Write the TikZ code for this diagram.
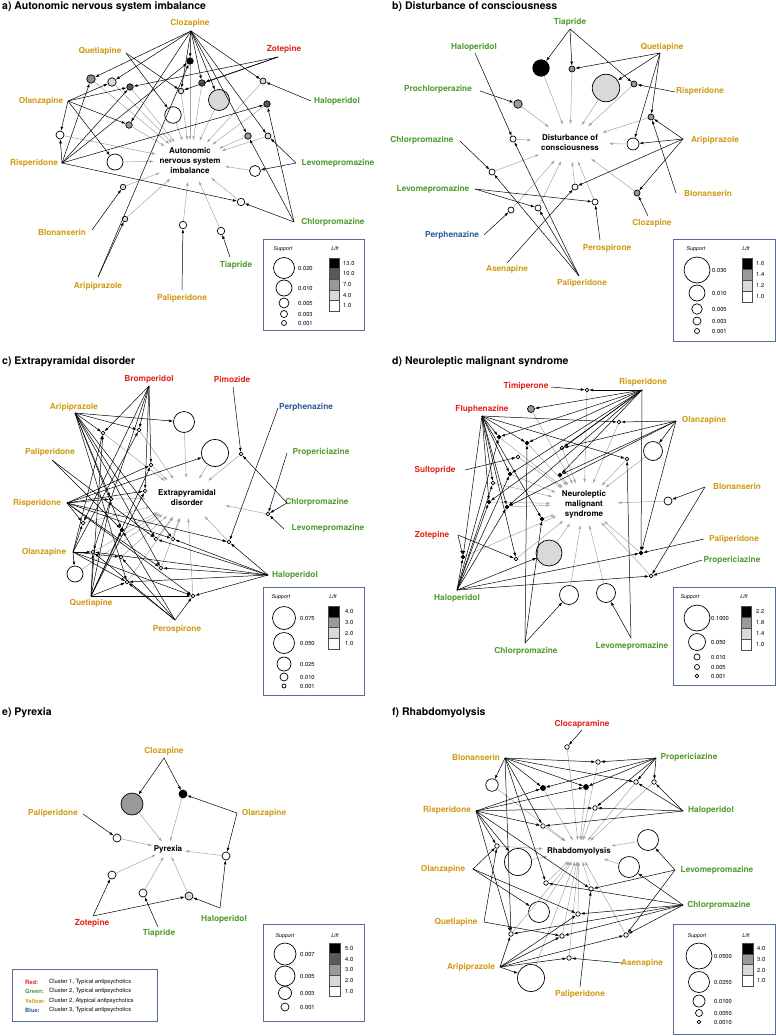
\documentclass[tikz,border=0pt]{standalone}
\usepackage{fontspec}
\setmainfont{TeX Gyre Heros}
\usepackage{tikz}
\usetikzlibrary{arrows.meta,shapes.geometric}
\definecolor{dred}{HTML}{E2231A}
\definecolor{dgreen}{HTML}{4E9A2E}
\definecolor{dyellow}{HTML}{D09A12}
\definecolor{dblue}{HTML}{2B5A96}
\definecolor{boxblue}{HTML}{5A6C94}

\begin{document}
\begin{tikzpicture}[x=1pt,y=-1pt,
	dr/.style={inner sep=0pt,font=\fontsize{8.3}{10}\selectfont\bfseries},
	ctr/.style={ellipse,align=center,font=\fontsize{8}{10}\selectfont\bfseries},
	bub/.style={circle,draw,line width=0.7pt,inner sep=0pt},
	arr/.style={-{Latex[length=4pt,width=2.8pt]},line width=0.5pt},
	garr/.style={arr,draw=black!35},
	ttl/.style={anchor=west,inner sep=0pt,font=\fontsize{10.5}{12}\selectfont\bfseries},
	lgd/.style={draw=boxblue,line width=0.9pt},
	lgh/.style={inner sep=0pt,font=\fontsize{5.3}{6}\selectfont\itshape},
	lgt/.style={anchor=west,inner sep=0pt,font=\fontsize{5.8}{7}\selectfont},
	cell/.style={draw=black!70,line width=0.5pt}]
	\useasboundingbox (0,0) rectangle (776,1036);
	
	%TITLES
	\node[ttl] (tA) at (2,7) {a) Autonomic nervous system imbalance};
	\node[ttl] (tB) at (392,7) {b) Disturbance of consciousness};
	\node[ttl] (tC) at (2,362) {c) Extrapyramidal disorder};
	\node[ttl] (tD) at (392,362) {d) Neuroleptic malignant syndrome};
	\node[ttl] (tE) at (2,713) {e) Pyrexia};
	\node[ttl] (tF) at (392,713) {f) Rhabdomyolysis};
	
	%PANEL A
	\node[ctr,inner xsep=-5pt,inner ysep=1.5pt] (aC) at (190,161) {Autonomic\\nervous system\\imbalance};
	\foreach \nm/\x/\y/\dd/\f in {a1/190/61/6.5/black, a2/91/79/8.5/black!45, a3/112/82/8.5/black!15, a4/130/87/6.5/black!65,
		a5/181/91/5.5/black!15, a6/202/83/6.5/black!65, a7/219/100/21/black!15, a8/263/81/6/black!15, a9/267/104/6.5/black!65,
		a10/173/115/16.5/white, a11/129/125/6.5/black!40, a12/60/135/8/white, a13/115/162/16/white, a14/248/136/6.5/black!40,
		a15/268/136/6/black!15, a16/255/171/11/white, a17/123/187/5.5/black!15, a18/241/202/7.5/white, a19/125/219/5.5/black!15,
		a20/183/225/7.5/white, a21/221/231/7.5/white}
		\node[bub,minimum size=\dd,fill=\f] (\nm) at (\x,\y) {};
	\foreach \nm/\ax/\ay/\lx/\ly/\col/\txt in {Clo/191/31/190/23/dyellow/Clozapine, Que/126/53/100/51/dyellow/Quetiapine,
		Zot/278/57/284/49/dred/Zotepine, Ola/68/101/41/101/dyellow/Olanzapine, Hal/311/101/337/101/dgreen/Haloperidol,
		Ris/62/163/34/163/dyellow/Risperidone, Lev/296/163/338/163/dgreen/Levomepromazine, Blo/92/230/62/232/dyellow/Blonanserin,
		Chl/294/222/333/222/dgreen/Chlorpromazine, Ari/98/277/98/286/dyellow/Aripiprazole, Pal/182/290/182/298/dyellow/Paliperidone,
		Tia/230/257/236/265/dgreen/Tiapride}
		{\coordinate (a\nm) at (\ax,\ay); \node[dr,text=\col] (a\nm-t) at (\lx,\ly) {\txt};}
	\foreach \k in {1,...,21} \draw[garr] (a\k)--(aC);
	\foreach \w in {1,2,3,5,6,7,8,11,14,15} \draw[arr] (aClo)--(a\w);
	\foreach \w in {5,10} \draw[arr] (aQue)--(a\w);
	\foreach \w in {4,5,6} \draw[arr] (aZot)--(a\w);
	\foreach \w in {3,4,11,12,13} \draw[arr] (aOla)--(a\w);
	\foreach \w in {8} \draw[arr] (aHal)--(a\w);
	\foreach \w in {1,2,4,9,12,18} \draw[arr] (aRis)--(a\w);
	\foreach \w in {15,16} \draw[arr] (aLev)--(a\w);
	\foreach \w in {9,14,18} \draw[arr] (aChl)--(a\w);
	\foreach \w in {17} \draw[arr] (aBlo)--(a\w);
	\foreach \w in {1,19} \draw[arr] (aAri)--(a\w);
	\draw[arr] (aPal)--(a20);
	\draw[arr] (aTia)--(a21);
	
	%LEGEND A
	\draw[lgd] (263,239) rectangle (364,330);
	\node[lgh] (aSh) at (283,249) {Support};
	\node[lgh] (aLh) at (335,249) {Lift};
	\foreach \yy/\dd/\val [count=\k] in {268/21/0.020, 288/16/0.010, 303/10/0.005, 314/7/0.003, 323/5/0.001}
		{\node[bub,minimum size=\dd] (aS\k) at (284,\yy) {}; \node[lgt] (aSt\k) at (298,\yy) {\val};}
	\foreach \k/\f/\val in {0/black/13.0, 1/black!65/10.0, 2/black!40/7.0, 3/black!15/4.0, 4/white/1.0}
		{\draw[cell,fill=\f] (329,{258+10.6*\k}) rectangle ++(10,10.6); \node[lgt] (aL\k) at (343,{263.3+10.6*\k}) {\val};}
	
	%PANEL B
	\node[ctr,inner xsep=-1.5pt,inner ysep=5pt] (bC) at (570,143) {Disturbance of\\consciousness};
	\foreach \nm/\x/\y/\dd/\f in {b1/541/68/16.5/black, b2/572/69/6/black!40, b3/606/88/27.5/black!15, b4/634/84/6/black!40,
		b5/518/104/8.5/black!40, b6/651/117/6/black!40, b7/513/139/6/white, b8/633/144/12/white, b9/492/172/6/white,
		b10/575/187/6/white, b11/595/202/6/white, b12/538/208/6/white, b13/511/210/6/white, b14/637/193/6/black!40}
		\node[bub,minimum size=\dd,fill=\f] (\nm) at (\x,\y) {};
	\foreach \nm/\ax/\ay/\lx/\ly/\col/\txt in {Tia/570/29/570/22/dgreen/Tiapride, Hal/475/53/474/47/dgreen/Haloperidol,
		Que/660/53/662/47/dyellow/Quetiapine, Pro/480/91/438/89/dgreen/Prochlorperazine, Ris/675/92/700/91/dyellow/Risperidone,
		Chl/460/141/422/140/dgreen/Chlorpromazine, Ari/683/139/715/140/dyellow/Aripiprazole, Lev/475/189/433/189/dgreen/Levomepromazine,
		Blo/676/193/708/193/dyellow/Blonanserin, Clo/648/216/652/223/dyellow/Clozapine, Pph/484/235/452/235/dblue/Perphenazine,
		Psp/600/240/607/248/dyellow/Perospirone, Ase/507/263/507/269/dyellow/Asenapine, Pal/579/276/582/283/dyellow/Paliperidone}
		{\coordinate (b\nm) at (\ax,\ay); \node[dr,text=\col] (b\nm-t) at (\lx,\ly) {\txt};}
	\foreach \k in {1,...,14} \draw[garr] (b\k)--(bC);
	\foreach \w in {1,2,4} \draw[arr] (bTia)--(b\w);
	\foreach \w in {2,3,6,8} \draw[arr] (bQue)--(b\w);
	\draw[arr] (bRis)--(b4);
	\draw[arr] (bPro)--(b5);
	\draw[arr] (bHal)--(b7);
	\foreach \w in {6,8,10,14} \draw[arr] (bAri)--(b\w);
	\draw[arr] (bBlo)--(b6);
	\draw[arr] (bClo)--(b14);
	\draw[arr] (bChl)--(b9);
	\foreach \w in {11,12} \draw[arr] (bLev)--(b\w);
	\draw[arr] (bPph)--(b13);
	\draw[arr] (bPsp)--(b11);
	\draw[arr] (bAse)--(b10);
	\foreach \w in {7,9,12} \draw[arr] (bPal)--(b\w);
	
	%LEGEND B
	\draw[lgd] (673,239) rectangle (775,341);
	\node[lgh] (bSh) at (696,249) {Support};
	\node[lgh] (bLh) at (746,249) {Lift};
	\foreach \yy/\dd/\val [count=\k] in {270/26/0.030, 293/16/0.010, 309/10.5/0.005, 321/8/0.003, 331/5/0.001}
		{\node[bub,minimum size=\dd] (bS\k) at (697,\yy) {}; \node[lgt] (bSt\k) at (712,\yy) {\val};}
	\foreach \k/\f/\val in {0/black/1.6, 1/black!40/1.4, 2/black!15/1.2, 3/white/1.0}
		{\draw[cell,fill=\f] (742,{258+11*\k}) rectangle ++(10,11); \node[lgt] (bL\k) at (756,{263.5+11*\k}) {\val};}
	
	%PANEL C
	\node[ctr,inner xsep=0pt,inner ysep=6pt] (cC) at (187,498) {Extrapyramidal\\disorder};
	\foreach \nm/\x/\y/\dd/\f in {c1/184/422/21/white, c2/215/453/27/white, c3/103/433/3.6/white, c4/139/430/3.6/white,
		c5/151/465/3.6/white, c6/145/491/3.6/white, c7/111/499/3.6/white, c8/83/523/3.6/white, c9/122/530/3.6/black,
		c10/156/539/3.6/white, c11/173/539/3.6/white, c12/93/552/3.6/white, c13/121/557/3.6/white, c14/161/568/3.6/white,
		c15/75/574/16/white, c16/127/582/3.6/white, c17/193/596/3.6/white, c18/241/454/3.6/white, c19/268/514/3.6/white,
		c20/229/542/3.6/white}
		\node[bub,minimum size=\dd,fill=\f] (\nm) at (\x,\y) {};
	\foreach \nm/\ax/\ay/\lx/\ly/\col/\txt in {Bro/149/386/149/379/dred/Bromperidol, Pim/233/387/232/379/dred/Pimozide,
		Ari/75/413/74/407/dyellow/Aripiprazole, Pph/278/408/306/407/dblue/Perphenazine, Pal/52/460/50/452/dyellow/Paliperidone,
		Pro/287/453/321/452/dgreen/Propericiazine, Ris/67/503/37/503/dyellow/Risperidone, Chl/287/503/317/502/dgreen/Chlorpromazine,
		Lev/284/529/328/528/dgreen/Levomepromazine, Ola/73/552/44/552/dyellow/Olanzapine, Hal/268/575/295/575/dgreen/Haloperidol,
		Que/91/596/91/603/dyellow/Quetiapine, Psp/175/620/177/629/dyellow/Perospirone}
		{\coordinate (c\nm) at (\ax,\ay); \node[dr,text=\col] (c\nm-t) at (\lx,\ly) {\txt};}
	\foreach \k in {1,...,20} \draw[garr] (c\k)--(cC);
	\foreach \w in {3,4,5,6,8,12} \draw[arr] (cBro)--(c\w);
	\draw[arr] (cPim)--(c18);
	\foreach \w in {1,3,4,7,9,10,11,14,16} \draw[arr] (cAri)--(c\w);
	\draw[arr] (cPph)--(c20);
	\foreach \w in {9,10} \draw[arr] (cPal)--(c\w);
	\draw[arr] (cPro)--(c19);
	\foreach \w in {2,5,6,7,8,11,14,17,20} \draw[arr] (cRis)--(c\w);
	\foreach \w in {18,19} \draw[arr] (cChl)--(c\w);
	\draw[arr] (cLev)--(c19);
	\foreach \w in {3,4,8,12,13,15,16,17} \draw[arr] (cOla)--(c\w);
	\foreach \w in {10,11,12,14,16,17,20} \draw[arr] (cHal)--(c\w);
	\foreach \w in {3,5,6,7,9,12,16,17} \draw[arr] (cQue)--(c\w);
	\foreach \w in {9,12,13,16,17} \draw[arr] (cPsp)--(c\w);
	
	%LEGEND C
	\draw[lgd] (263,587) rectangle (364,695);
	\node[lgh] (cSh) at (281,597) {Support};
	\node[lgh] (cLh) at (333,597) {Lift};
	\foreach \yy/\dd/\val [count=\k] in {618/23/0.075, 643/21/0.050, 664/14/0.025, 677/8/0.010, 686/4/0.001}
		{\node[bub,minimum size=\dd] (cS\k) at (284,\yy) {}; \node[lgt] (cSt\k) at (300,\yy) {\val};}
	\foreach \k/\f/\val in {0/black/4.0, 1/black!40/3.0, 2/black!15/2.0, 3/white/1.0}
		{\draw[cell,fill=\f] (328,{606+10.8*\k}) rectangle ++(11,10.8); \node[lgt] (cL\k) at (345,{611.4+10.8*\k}) {\val};}
	
	%PANEL D
	\node[ctr,inner xsep=1.5pt,inner ysep=1pt] (dC) at (584,504) {Neuroleptic\\malignant\\syndrome};
	\foreach \nm/\x/\y/\dd/\f in {d1/587/390/3.6/white, d2/531/409/7/black!40, d3/619/422/3.6/white, d4/499/437/3.6/black,
		d5/527/443/3.6/black, d6/562/448/3.6/white, d7/518/457/3.6/white, d8/627/459/3.6/white, d9/653/451/19/white,
		d10/510/474/3.6/black, d11/560/475/3.6/black, d12/493/483/3.6/white, d13/489/502/3.6/black, d14/507/507/3.6/black,
		d15/542/519/3.6/black, d16/668/501/8/white, d17/463/557/3.6/black, d18/516/559/3.6/white, d19/549/553/26/black!15,
		d20/641/553/3.6/black, d21/651/576/3.6/white, d22/569/595/19/white, d23/606/593/19/white}
		\node[bub,minimum size=\dd,fill=\f] (\nm) at (\x,\y) {};
	\foreach \nm/\ax/\ay/\lx/\ly/\col/\txt in {Tim/551/387/526/386/dred/Timiperone, Ris/642/390/643/382/dyellow/Risperidone,
		Flu/482/416/482/409/dred/Fluphenazine, Ola/676/421/704/420/dyellow/Olanzapine, Sul/465/470/435/470/dred/Sultopride,
		Blo/705/487/737/486/dyellow/Blonanserin, Zot/458/535/432/535/dred/Zotepine, Pal/704/539/734/539/dyellow/Paliperidone,
		Pro/702/560/732/560/dgreen/Propericiazine, Hal/457/590/457/598/dgreen/Haloperidol, Chl/525/643/526/651/dgreen/Chlorpromazine,
		Lev/631/638/632/646/dgreen/Levomepromazine}
		{\coordinate (d\nm) at (\ax,\ay); \node[dr,text=\col] (d\nm-t) at (\lx,\ly) {\txt};}
	\foreach \k in {1,...,23} \draw[garr] (d\k)--(dC);
	\draw[arr] (dTim)--(d1);
	\foreach \w in {1,2,4,5,6,10,11,13,14,20} \draw[arr] (dRis)--(d\w);
	\foreach \w in {3,4,5,8,10,12,13,14,15,17,18} \draw[arr] (dFlu)--(d\w);
	\foreach \w in {3,6,9,11,14,20} \draw[arr] (dOla)--(d\w);
	\draw[arr] (dSul)--(d7);
	\foreach \w in {16,21} \draw[arr] (dBlo)--(d\w);
	\foreach \w in {17,18} \draw[arr] (dZot)--(d\w);
	\draw[arr] (dPal)--(d20);
	\draw[arr] (dPro)--(d21);
	\foreach \w in {4,10,12,13,14,17,19,20,21} \draw[arr] (dHal)--(d\w);
	\foreach \w in {5,15,22} \draw[arr] (dChl)--(d\w);
	\foreach \w in {8,23} \draw[arr] (dLev)--(d\w);
	
	%LEGEND D
	\draw[lgd] (673,587) rectangle (775,685);
	\node[lgh] (dSh) at (690,597) {Support};
	\node[lgh] (dLh) at (744,597) {Lift};
	\foreach \yy/\dd/\val [count=\k] in {618/26/0.1000, 642/17/0.050, 657/6/0.010, 667/5/0.005, 676/3.6/0.001}
		{\node[bub,minimum size=\dd] (dS\k) at (697,\yy) {}; \node[lgt] (dSt\k) at (711,\yy) {\val};}
	\foreach \k/\f/\val in {0/black/2.2, 1/black!40/1.8, 2/black!15/1.4, 3/white/1.0}
		{\draw[cell,fill=\f] (741,{606+11*\k}) rectangle ++(10,11); \node[lgt] (dL\k) at (756,{611.5+11*\k}) {\val};}
	
	%PANEL E
	\node[ctr,inner xsep=-2pt,inner ysep=1.5pt] (eC) at (168,849) {Pyrexia};
	\foreach \nm/\x/\y/\dd/\f in {e1/132/804/22/black!40, e2/183/794/8/black, e3/117/838/8/white, e4/226/856/8/white,
		e5/112/875/8/white, e6/143/893/8/white, e7/189/896/8/black!15}
		\node[bub,minimum size=\dd,fill=\f] (\nm) at (\x,\y) {};
	\foreach \nm/\ax/\ay/\lx/\ly/\col/\txt in {Clo/164/758/164/751/dyellow/Clozapine, Pal/83/814/53/813/dyellow/Paliperidone,
		Ola/237/813/264/813/dyellow/Olanzapine, Zot/93/916/92/923/dred/Zotepine, Tia/158/927/159/933/dgreen/Tiapride,
		Hal/220/908/224/919/dgreen/Haloperidol}
		{\coordinate (e\nm) at (\ax,\ay); \node[dr,text=\col] (e\nm-t) at (\lx,\ly) {\txt};}
	\foreach \k in {1,...,7} \draw[garr] (e\k)--(eC);
	\foreach \w in {1,2} \draw[arr] (eClo)--(e\w);
	\foreach \w in {2,4} \draw[arr] (eOla)--(e\w);
	\draw[arr] (ePal)--(e3);
	\foreach \w in {5,7} \draw[arr] (eZot)--(e\w);
	\draw[arr] (eTia)--(e6);
	\foreach \w in {4,7} \draw[arr] (eHal)--(e\w);
	
	%LEGEND E
	\draw[lgd] (263,924) rectangle (364,1021);
	\node[lgh] (eSh) at (285,936) {Support};
	\node[lgh] (eLh) at (335,936) {Lift};
	\foreach \yy/\dd/\val [count=\k] in {954/22/0.007, 976/20/0.005, 993/13/0.003, 1007/8/0.001}
		{\node[bub,minimum size=\dd] (eS\k) at (285,\yy) {}; \node[lgt] (eSt\k) at (300,\yy) {\val};}
	\foreach \k/\f/\val in {0/black/5.0, 1/black!65/4.0, 2/black!40/3.0, 3/black!15/2.0, 4/white/1.0}
		{\draw[cell,fill=\f] (329,{943+10.7*\k}) rectangle ++(11,10.7); \node[lgt] (eL\k) at (345,{948.3+10.7*\k}) {\val};}
	
	%CLUSTER COLOURS
	\draw[lgd] (12,969) rectangle (157,1021);
	\foreach \yy/\col/\nm/\txt [count=\k] in {982/dred/Red:/{Cluster 1, Typical antipsychotics},
		991/dgreen/Green:/{Cluster 2, Typical antipsychotics}, 1001/dyellow/Yellow:/{Cluster 2, Atypical antipsychotics},
		1010/dblue/Blue:/{Cluster 3, Typical antipsychotics}}
		{\node[lgt,text=\col,font=\fontsize{5.8}{7}\selectfont\bfseries] (kC\k) at (25,\yy) {\nm};
		 \node[lgt] (kT\k) at (49,\yy) {\txt};}
	
	%PANEL F
	\node[ctr,inner xsep=-6pt,inner ysep=3.5pt] (fC) at (579,851) {Rhabdomyolysis};
	\foreach \nm/\x/\y/\dd/\f in {f1/567/747/4.5/white, f2/598/762/4.5/white, f3/492/785/12.5/white, f4/543/788/5/black,
		f5/586/787/5/black, f6/636/782/4.5/white, f7/654/782/4.5/white, f8/595/808/4.5/white, f9/543/826/4.5/white,
		f10/648/840/21/white, f11/497/846/4.5/white, f12/518/862/27/white, f13/629/867/21/white, f14/546/883/4.5/white,
		f15/591/889/4.5/white, f16/539/912/21/white, f17/578/914/4.5/white, f18/511/934/4.5/white, f19/562/936/4.5/white,
		f20/626/935/4.5/white, f21/569/958/4.5/white, f22/531/978/27/white}
		\node[bub,minimum size=\dd,fill=\f] (\nm) at (\x,\y) {};
	\foreach \nm/\ax/\ay/\lx/\ly/\col/\txt in {Clc/582/730/582/724/dred/Clocapramine, Blo/505/758/476/757/dyellow/Blonanserin,
		Pro/656/758/689/757/dgreen/Propericiazine, Ris/476/811/447/810/dyellow/Risperidone, Hal/683/811/711/810/dgreen/Haloperidol,
		Ola/473/869/443/869/dyellow/Olanzapine, Lev/675/870/717/870/dgreen/Levomepromazine, Chl/683/905/719/905/dgreen/Chlorpromazine,
		Que/484/922/456/922/dyellow/Quetiapine, Ase/622/963/642/963/dyellow/Asenapine, Ari/500/967/471/967/dyellow/Aripiprazole,
		Pal/580/987/580/994/dyellow/Paliperidone}
		{\coordinate (f\nm) at (\ax,\ay); \node[dr,text=\col] (f\nm-t) at (\lx,\ly) {\txt};}
	\foreach \k in {1,...,22} \draw[garr] (f\k)--(fC);
	\draw[arr] (fClc)--(f1);
	\foreach \w in {2,3,4,5,6,9,14,18} \draw[arr] (fBlo)--(f\w);
	\foreach \w in {2,4,5,6,7,8} \draw[arr] (fPro)--(f\w);
	\foreach \w in {4,5,8,9,11,12,15,18} \draw[arr] (fRis)--(f\w);
	\foreach \w in {6,7,8,9} \draw[arr] (fHal)--(f\w);
	\foreach \w in {11,16,17} \draw[arr] (fOla)--(f\w);
	\foreach \w in {10,15,20} \draw[arr] (fLev)--(f\w);
	\foreach \w in {13,14,17,18,19,20} \draw[arr] (fChl)--(f\w);
	\foreach \w in {11,19} \draw[arr] (fQue)--(f\w);
	\foreach \w in {17,18,19,20,21,22} \draw[arr] (fAri)--(f\w);
	\draw[arr] (fAse)--(f21);
	\draw[arr] (fPal)--(f15);
	
	%LEGEND F
	\draw[lgd] (673,924) rectangle (775,1034);
	\node[lgh] (fSh) at (697,936) {Support};
	\node[lgh] (fLh) at (746,936) {Lift};
	\foreach \yy/\dd/\val [count=\k] in {956/26/0.0500, 982/21/0.0250, 1001/12/0.0100, 1013/7/0.0050, 1022/3.6/0.0010}
		{\node[bub,minimum size=\dd] (fS\k) at (699,\yy) {}; \node[lgt] (fSt\k) at (714,\yy) {\val};}
	\foreach \k/\f/\val in {0/black/4.0, 1/black!40/3.0, 2/black!15/2.0, 3/white/1.0}
		{\draw[cell,fill=\f] (742,{943+10.8*\k}) rectangle ++(11,10.8); \node[lgt] (fL\k) at (757,{948.4+10.8*\k}) {\val};}
\end{tikzpicture}
\end{document}
